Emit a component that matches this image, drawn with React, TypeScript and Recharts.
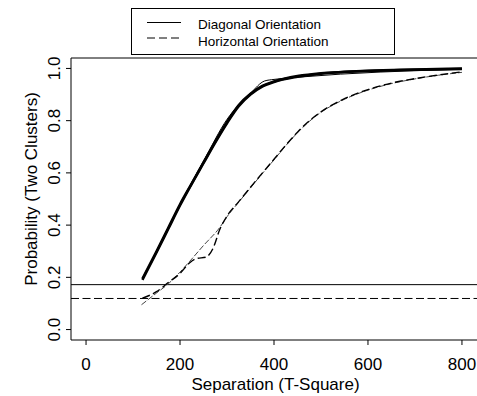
import React from "react"
import { LineChart, Line, XAxis, YAxis, ReferenceLine } from "recharts"

// T-square separation values (x) for each simulated curve
const sepDiagA = [120, 150, 175, 200, 225, 250, 275, 300, 325, 350, 375, 400, 450, 500, 550, 600, 700, 800]
const probDiagA = [0.195, 0.3, 0.39, 0.48, 0.56, 0.64, 0.72, 0.795, 0.86, 0.903, 0.933, 0.95, 0.971, 0.982, 0.987, 0.991, 0.996, 1.0]
const probDiagB = [0.19, 0.295, 0.385, 0.475, 0.558, 0.637, 0.716, 0.79, 0.855, 0.9, 0.93, 0.948, 0.968, 0.98, 0.986, 0.99, 0.995, 0.998]

const sepDiagThin = [120, 150, 200, 250, 300, 350, 380, 400, 455, 800]
const probDiagThin = [0.195, 0.3, 0.48, 0.645, 0.805, 0.905, 0.952, 0.958, 0.967, 0.997]

const sepHorizA = [120, 150, 175, 200, 220, 235, 255, 270, 285, 300, 325, 350, 375, 400, 425, 450, 475, 500, 550, 600, 650, 700, 750, 800]
const probHorizA = [0.12, 0.145, 0.18, 0.215, 0.255, 0.272, 0.277, 0.31, 0.385, 0.435, 0.49, 0.545, 0.599, 0.652, 0.706, 0.756, 0.799, 0.834, 0.884, 0.919, 0.944, 0.961, 0.975, 0.987]

const sepHorizB = [118, 150, 175, 200, 220, 250, 285, 300, 325, 350, 375, 400, 425, 450, 475, 500, 550, 600, 650, 700, 750, 800]
const probHorizB = [0.095, 0.14, 0.175, 0.22, 0.26, 0.322, 0.392, 0.432, 0.488, 0.543, 0.597, 0.65, 0.704, 0.754, 0.797, 0.832, 0.882, 0.917, 0.942, 0.96, 0.974, 0.985]

// threshold lines
const diagCutoff = 0.172
const horizCutoff = 0.119

const xTicks = [0, 200, 400, 600, 800]
const yTicks = [0, 0.2, 0.4, 0.6, 0.8, 1.0]

const legendItems = ["Diagonal Orientation", "Horizontal Orientation"]

const zip = (xs: number[], ys: number[]) => xs.map((x, i) => ({ x, y: ys[i] }))

const FONT = "'Liberation Sans', Arial, Helvetica, sans-serif"

const XTick = (props: any) => {
  const { x, y, payload } = props
  return (
    <text x={x} y={y + 23} textAnchor="middle" fontSize={17} fontFamily={FONT} fill="#000">
      {payload.value}
    </text>
  )
}

const YTick = (props: any) => {
  const { x, y, payload } = props
  const bx = x - 4
  return (
    <text
      x={bx}
      y={y}
      transform={`rotate(-90, ${bx}, ${y})`}
      textAnchor="middle"
      fontSize={17}
      fontFamily={FONT}
      fill="#000"
    >
      {payload.value.toFixed(1)}
    </text>
  )
}

export default function App() {
  return (
    <div style={{ position: "absolute", left: 0, top: 0, width: 477, height: 396, overflow: "hidden", background: "#fff" }}>
      <LineChart width={480} height={396} margin={{ top: 58, right: 3, bottom: 0, left: 0 }}>
        <XAxis
          type="number"
          dataKey="x"
          domain={[-32, 832]}
          ticks={xTicks}
          allowDataOverflow
          height={56}
          tickSize={5}
          stroke="#000"
          tickLine={{ stroke: "#000" }}
          tick={<XTick />}
        />
        <YAxis
          type="number"
          dataKey="y"
          domain={[-0.04, 1.04]}
          ticks={yTicks}
          allowDataOverflow
          width={71}
          tickSize={5}
          stroke="#000"
          tickLine={{ stroke: "#000" }}
          tick={<YTick />}
        />
        <ReferenceLine y={1.04} stroke="#000" strokeWidth={1} />
        <ReferenceLine y={diagCutoff} stroke="#000" strokeWidth={1} />
        <ReferenceLine y={horizCutoff} stroke="#000" strokeWidth={1} strokeDasharray="8 3.5" />

        <Line data={zip(sepHorizB, probHorizB)} dataKey="y" type="monotone" stroke="#444" strokeWidth={1} strokeDasharray="6 2" dot={false} isAnimationActive={false} />
        <Line data={zip(sepHorizA, probHorizA)} dataKey="y" type="monotone" stroke="#000" strokeWidth={1.4} strokeDasharray="8 3.5" dot={false} isAnimationActive={false} />

        <Line data={zip(sepDiagA, probDiagB)} dataKey="y" type="monotone" stroke="#000" strokeWidth={2.5} dot={false} isAnimationActive={false} />
        <Line data={zip(sepDiagA, probDiagA)} dataKey="y" type="monotone" stroke="#000" strokeWidth={2.5} dot={false} isAnimationActive={false} />
        <Line data={zip(sepDiagThin, probDiagThin)} dataKey="y" type="monotone" stroke="#000" strokeWidth={1} dot={false} isAnimationActive={false} />
      </LineChart>

      <svg width={477} height={396} style={{ position: "absolute", left: 0, top: 0, pointerEvents: "none" }}>
        <rect x={131.5} y={8.5} width={263} height={46} fill="#fff" stroke="#000" strokeWidth={1} />
        <line x1={147} x2={181} y1={22.5} y2={22.5} stroke="#000" strokeWidth={1} />
        <line x1={147} x2={181} y1={38} y2={38} stroke="#000" strokeWidth={1} strokeDasharray="8 4" />
        <text x={198} y={29} fontSize={13.5} fontFamily={FONT} fill="#000">{legendItems[0]}</text>
        <text x={198} y={45.5} fontSize={13.5} fontFamily={FONT} fill="#000">{legendItems[1]}</text>
        <text x={275.5} y={390} textAnchor="middle" fontSize={17} fontFamily={FONT} fill="#000">
          Separation (T-Square)
        </text>
        <text x={37} y={189} transform="rotate(-90, 37, 189)" textAnchor="middle" fontSize={17} fontFamily={FONT} fill="#000">
          Probability (Two Clusters)
        </text>
      </svg>
    </div>
  )
}
